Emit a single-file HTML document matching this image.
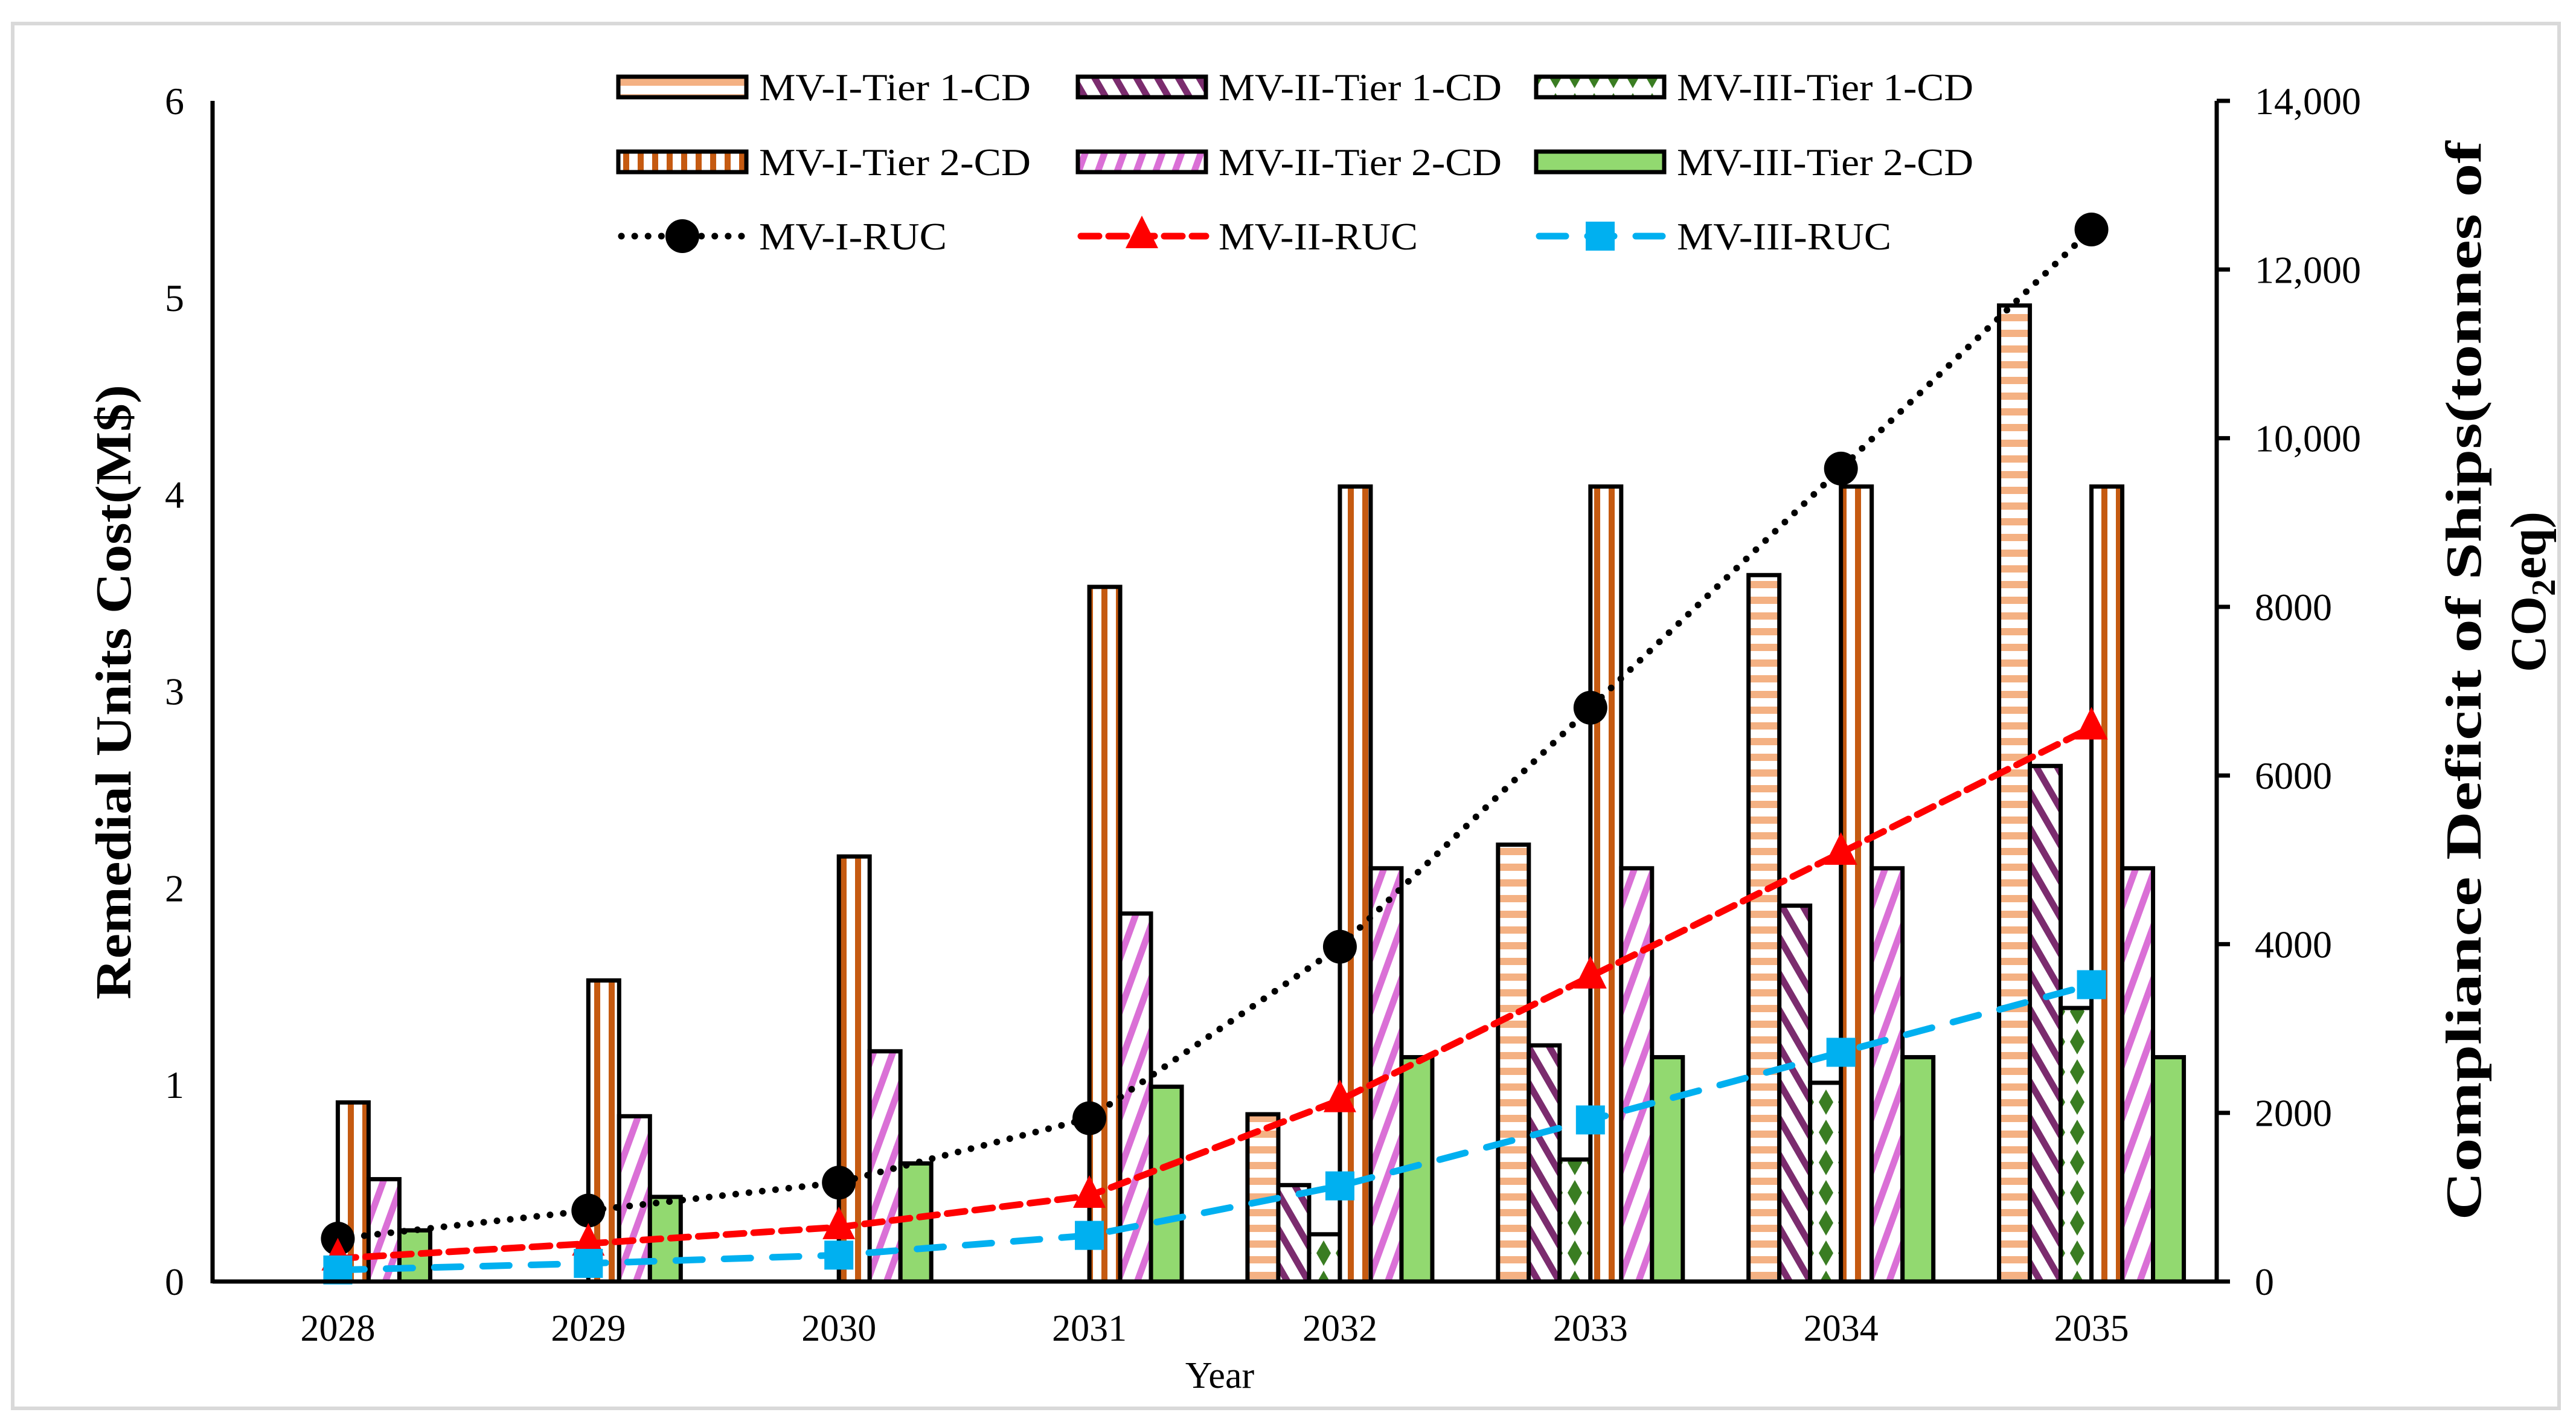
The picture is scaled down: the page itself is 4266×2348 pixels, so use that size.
<!DOCTYPE html>
<html><head><meta charset="utf-8"><style>
html,body{margin:0;padding:0;background:#fff;}
svg{display:block;font-family:"Liberation Serif",serif;}
</style></head><body>
<svg id="chart" width="4266" height="2348" viewBox="0 0 4266 2348" xmlns="http://www.w3.org/2000/svg">
<defs>
<pattern id="pHs" patternUnits="userSpaceOnUse" width="50" height="26"><rect width="50" height="26" fill="#fff"/><rect y="0" width="50" height="12" fill="#f4b183"/></pattern>
<pattern id="pVs" patternUnits="userSpaceOnUse" width="24" height="50"><rect width="24" height="50" fill="#fff"/><rect x="0" width="10" height="50" fill="#c55a11"/></pattern>
<pattern id="pDp" patternUnits="userSpaceOnUse" width="30" height="30" patternTransform="rotate(-30)"><rect width="30" height="30" fill="#fff"/><rect width="11" height="30" fill="#7b2c6e"/></pattern>
<pattern id="pDk" patternUnits="userSpaceOnUse" width="30" height="30" patternTransform="rotate(20)"><rect width="30" height="30" fill="#fff"/><rect width="11" height="30" fill="#da70d6"/></pattern>
<pattern id="pDm" patternUnits="userSpaceOnUse" width="32" height="50"><rect width="32" height="50" fill="#fff"/><polygon points="16,4 28,25 16,46 4,25" fill="#3a7d22"/></pattern>
</defs>
<rect x="21" y="39" width="4217" height="2293" fill="#fff" stroke="#d9d9d9" stroke-width="6"/>
<g id="bars"></g>
<g id="lines"></g>
<g id="axes"></g>
<g id="legend"></g>
</svg>
<script>
const categories=["2028","2029","2030","2031","2032","2033","2034","2035"];
const mv1Tier1=[0,0,0,0,0.85,2.22,3.59,4.96];
const mv2Tier1=[0,0,0,0,0.49,1.20,1.91,2.62];
const mv3Tier1=[0,0,0,0,0.24,0.62,1.01,1.39];
const mv1Tier2=[0.91,1.53,2.16,3.53,4.04,4.04,4.04,4.04];
const mv2Tier2=[0.52,0.84,1.17,1.87,2.10,2.10,2.10,2.10];
const mv3Tier2=[0.26,0.43,0.60,0.99,1.14,1.14,1.14,1.14];
const mv1Ruc=[508,841,1173,1936,3970,6804,9640,12475];
const mv2Ruc=[274,450,645,1017,2151,3617,5084,6570];
const mv3Ruc=[137,215,313,547,1134,1916,2718,3520];
const leftTicks=[0,1,2,3,4,5,6];
const rightTicks=[0,2000,4000,6000,8000,10000,12000,14000];
const rightTickLabels=["0","2000","4000","6000","8000","10,000","12,000","14,000"];

const NS="http://www.w3.org/2000/svg";
const X0=352,X1=3671,Y0=2122,Y1=167;
const band=(X1-X0)/categories.length;
const xC=i=>X0+band*(i+0.5);
const yL=v=>Y0-(v/6)*(Y0-Y1);
const yR=v=>Y0-(v/14000)*(Y0-Y1);
function mk(tag,attrs,parent){const e=document.createElementNS(NS,tag);for(const k in attrs)e.setAttribute(k,attrs[k]);parent.appendChild(e);return e;}
const gB=document.getElementById('bars'),gL=document.getElementById('lines'),gA=document.getElementById('axes'),gG=document.getElementById('legend');

const barSeries=[[mv1Tier1,'url(#pHs)','mv1-tier1'],[mv2Tier1,'url(#pDp)','mv2-tier1'],[mv3Tier1,'url(#pDm)','mv3-tier1'],[mv1Tier2,'url(#pVs)','mv1-tier2'],[mv2Tier2,'url(#pDk)','mv2-tier2'],[mv3Tier2,'#92d970','mv3-tier2']];
const bw=51;
barSeries.forEach((s,si)=>{s[0].forEach((v,i)=>{if(v<=0)return;
 const x=xC(i)-3*bw+si*bw,y=yL(v);
 const r=mk('rect',{x:x,y:y,width:bw,height:Y0-y,fill:s[1],stroke:'#000','stroke-width':7},gB);
 
 
});});

const lineSeries=[[mv1Ruc,'#000','0.1 22','circle','mv1-ruc'],[mv2Ruc,'#ff0000','30 16','tri','mv2-ruc'],[mv3Ruc,'#00b0f0','44 36','sq','mv3-ruc']];
function marker(type,x,y,col,par){
 if(type==='circle')return mk('circle',{cx:x,cy:y,r:28,fill:col},par);
 if(type==='tri')return mk('polygon',{points:`${x},${y-34} ${x+27},${y+20} ${x-27},${y+20}`,fill:col},par);
 return mk('rect',{x:x-24,y:y-24,width:48,height:48,fill:col},par);
}
lineSeries.forEach(s=>{
 const pts=s[0].map((v,i)=>xC(i)+','+yR(v)).join(' ');
 const pl=mk('polyline',{points:pts,fill:'none',stroke:s[1],'stroke-width':11,'stroke-dasharray':s[2],'stroke-linecap':'round'},gL);
 
 
 s[0].forEach((v,i)=>{const m=marker(s[3],xC(i),yR(v),s[1],gL);
  
  });
});

// axes
let a=mk('line',{x1:X0,y1:Y1,x2:X0,y2:Y0+3,stroke:'#000','stroke-width':7},gA);

a=mk('line',{x1:X1,y1:Y1,x2:X1,y2:Y0+3,stroke:'#000','stroke-width':7},gA);

a=mk('line',{x1:X0,y1:Y0,x2:X1,y2:Y0,stroke:'#000','stroke-width':7},gA);

leftTicks.forEach(v=>{const t=mk('text',{x:305,y:yL(v)+22,'text-anchor':'end','font-size':64},gA);t.textContent=v;
 });
rightTicks.forEach((v,i)=>{mk('line',{x1:X1,y1:yR(v),x2:X1+22,y2:yR(v),stroke:'#000','stroke-width':7},gA);
 const t=mk('text',{x:3734,y:yR(v)+22,'font-size':64},gA);t.textContent=rightTickLabels[i];
 });
categories.forEach((c,i)=>{const t=mk('text',{x:xC(i),y:2220,'text-anchor':'middle','font-size':62},gA);t.textContent=c;
 });
let t=mk('text',{x:2020,y:2298,'text-anchor':'middle','font-size':62},gA);t.textContent='Year';

t=mk('text',{x:0,y:0,'text-anchor':'middle','font-size':84,'font-weight':'bold',textLength:1018,lengthAdjust:'spacingAndGlyphs',transform:'translate(216,1146) rotate(-90)'},gA);t.textContent='Remedial Units Cost(M$)';

t=mk('text',{x:0,y:0,'text-anchor':'middle','font-size':84,'font-weight':'bold',textLength:1787,lengthAdjust:'spacingAndGlyphs',transform:'translate(4108,1127) rotate(-90)'},gA);t.textContent='Compliance Deficit of Ships(tonnes of';

t=mk('text',{x:0,y:0,'text-anchor':'middle','font-size':84,'font-weight':'bold',transform:'translate(4215,980) rotate(-90)'},gA);
t.innerHTML='CO<tspan font-size="56" dy="16">2</tspan><tspan dy="-16">eq)</tspan>';


// legend
const legBars=[['MV-I-Tier 1-CD','url(#pHs)',1024,144,450],['MV-II-Tier 1-CD','url(#pDp)',1785,144,469],['MV-III-Tier 1-CD','url(#pDm)',2544,144,491],
['MV-I-Tier 2-CD','url(#pVs)',1024,268,450],['MV-II-Tier 2-CD','url(#pDk)',1785,268,469],['MV-III-Tier 2-CD','#92d970',2544,268,491]];
legBars.forEach(l=>{
 const g=mk('g',{},gG);
 
 mk('rect',{x:l[2],y:l[3]-17,width:212,height:34,fill:l[1],stroke:'#000','stroke-width':7},g);
 const tx=mk('text',{x:l[2]+233,y:l[3]+22,'font-size':64,textLength:l[4],lengthAdjust:'spacingAndGlyphs'},g);tx.textContent=l[0];
});
const legLines=[['MV-I-RUC','#000','0.1 22','circle',1024,311],['MV-II-RUC','#ff0000','30 16','tri',1785,330],['MV-III-RUC','#00b0f0','44 36','sq',2544,355]];
legLines.forEach(l=>{
 const g=mk('g',{},gG);
 
 const y=391;
 mk('line',{x1:l[4]+5,y1:y,x2:l[4]+212,y2:y,stroke:l[1],'stroke-width':11,'stroke-dasharray':l[2],'stroke-linecap':'round'},g);
 marker(l[3],l[4]+106,y,l[1],g);
 const tx=mk('text',{x:l[4]+233,y:y+22,'font-size':64,textLength:l[5],lengthAdjust:'spacingAndGlyphs'},g);tx.textContent=l[0];
});
</script>
</body></html>
